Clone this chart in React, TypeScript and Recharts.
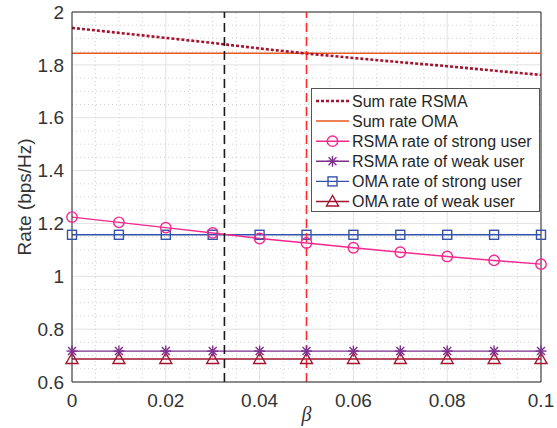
import React from 'react';
import {
  ComposedChart,
  Line,
  XAxis,
  YAxis,
  CartesianGrid,
  ReferenceLine
} from 'recharts';

// beta 取值
const beta = [0, 0.01, 0.02, 0.03, 0.04, 0.05, 0.06, 0.07, 0.08, 0.09, 0.1];
const sumRsma = [1.94, 1.921, 1.902, 1.883, 1.862, 1.843, 1.826, 1.81, 1.795, 1.778, 1.762];
const sumOma = [1.844, 1.844, 1.844, 1.844, 1.844, 1.844, 1.844, 1.844, 1.844, 1.844, 1.844];
const rsmaStrong = [1.224, 1.204, 1.184, 1.164, 1.143, 1.126, 1.108, 1.091, 1.075, 1.06, 1.046];
const rsmaWeak = [0.717, 0.717, 0.717, 0.717, 0.717, 0.717, 0.717, 0.717, 0.717, 0.717, 0.717];
const omaStrong = [1.157, 1.157, 1.157, 1.157, 1.157, 1.157, 1.157, 1.157, 1.157, 1.157, 1.157];
const omaWeak = [0.687, 0.687, 0.687, 0.687, 0.687, 0.687, 0.687, 0.687, 0.687, 0.687, 0.687];

const xTicks = [0, 0.02, 0.04, 0.06, 0.08, 0.1];
const yTicks = [0.6, 0.8, 1, 1.2, 1.4, 1.6, 1.8, 2];
const minorX = [0.005, 0.01, 0.015, 0.025, 0.03, 0.035, 0.045, 0.05, 0.055, 0.065, 0.07, 0.075, 0.085, 0.09, 0.095];
const minorY = [0.65, 0.7, 0.75, 0.85, 0.9, 0.95, 1.05, 1.1, 1.15, 1.25, 1.3, 1.35, 1.45, 1.5, 1.55, 1.65, 1.7, 1.75, 1.85, 1.9, 1.95];

// 两条竖直虚线: 强用户速率交点 / 和速率交点
const crossStrong = 0.0325;
const crossSum = 0.05;

const legendNames = [
  'Sum rate RSMA',
  'Sum rate OMA',
  'RSMA rate of strong user',
  'RSMA rate of weak user',
  'OMA rate of strong user',
  'OMA rate of weak user'
];

const C = {
  rsmaSum: '#a2142f',
  omaSum: '#e8581f',
  strong: '#f5288f',
  weak: '#7e2f8e',
  omaStrong: '#3553a8',
  omaWeak: '#a2142f',
  axis: '#262626'
};

const data = beta.map((b, i) => ({
  beta: b,
  sumRsma: sumRsma[i],
  sumOma: sumOma[i],
  rsmaStrong: rsmaStrong[i],
  rsmaWeak: rsmaWeak[i],
  omaStrong: omaStrong[i],
  omaWeak: omaWeak[i]
}));

function Mark({ kind, cx, cy, color }: { kind: string; cx: number; cy: number; color: string }) {
  if (kind === 'circle') return <circle cx={cx} cy={cy} r={5.2} fill="none" stroke={color} strokeWidth={1.4} />;
  if (kind === 'square')
    return <rect x={cx - 4.5} y={cy - 4.5} width={9} height={9} fill="none" stroke={color} strokeWidth={1.4} />;
  if (kind === 'triangle')
    return (
      <polygon
        points={`${cx},${cy - 6} ${cx - 6},${cy + 4.5} ${cx + 6},${cy + 4.5}`}
        fill="none"
        stroke={color}
        strokeWidth={1.4}
      />
    );
  if (kind === 'star') {
    const r = 5.5;
    const d = r * 0.72;
    return (
      <g stroke={color} strokeWidth={1.4}>
        <line x1={cx - r} y1={cy} x2={cx + r} y2={cy} />
        <line x1={cx} y1={cy - r} x2={cx} y2={cy + r} />
        <line x1={cx - d} y1={cy - d} x2={cx + d} y2={cy + d} />
        <line x1={cx - d} y1={cy + d} x2={cx + d} y2={cy - d} />
      </g>
    );
  }
  return null;
}

const dotOf = (kind: string, color: string) => (p: any) =>
  <Mark key={`${kind}-${p.index}`} kind={kind} cx={p.cx} cy={p.cy} color={color} />;

function LegendBox() {
  const rows = [
    { color: C.rsmaSum, dash: '3 2', w: 2.5, kind: '' },
    { color: C.omaSum, dash: undefined, w: 1.5, kind: '' },
    { color: C.strong, dash: undefined, w: 1.4, kind: 'circle' },
    { color: C.weak, dash: undefined, w: 1.4, kind: 'star' },
    { color: C.omaStrong, dash: undefined, w: 1.4, kind: 'square' },
    { color: C.omaWeak, dash: undefined, w: 1.4, kind: 'triangle' }
  ];
  return (
    <div
      style={{
        position: 'absolute',
        left: 311,
        top: 88,
        width: 229,
        height: 124,
        background: '#fff',
        border: '1px solid #555',
        boxSizing: 'border-box'
      }}
    >
      <svg width={229} height={124}>
        {rows.map((r, i) => {
          const y = 12 + i * 20.1;
          return (
            <g key={i}>
              <line x1={4} y1={y} x2={37} y2={y} stroke={r.color} strokeWidth={r.w} strokeDasharray={r.dash} />
              {r.kind && <Mark kind={r.kind} cx={20.5} cy={y} color={r.color} />}
              <text
                x={40}
                y={y}
                dy="0.36em"
                fontSize={16}
                fontFamily="'Liberation Sans', Arial, sans-serif"
                fill={C.axis}
              >
                {legendNames[i]}
              </text>
            </g>
          );
        })}
      </svg>
    </div>
  );
}

const tickStyle = { fontSize: 19, fill: '#333', fontFamily: "'Liberation Sans', Arial, sans-serif" };

export default function App() {
  return (
    <div style={{ position: 'absolute', left: 0, top: 0, width: 557, height: 428, background: '#fff' }}>
      <ComposedChart width={557} height={428} data={data} margin={{ top: 12, right: 16, bottom: 0, left: 0 }}>
        <CartesianGrid stroke="#e2e2e2" strokeWidth={1} />
        {minorX.map(v => (
          <ReferenceLine key={`mx${v}`} x={v} stroke="#c4c4c4" strokeDasharray="1 3" strokeWidth={0.8} />
        ))}
        {minorY.map(v => (
          <ReferenceLine key={`my${v}`} y={v} stroke="#c4c4c4" strokeDasharray="1 3" strokeWidth={0.8} />
        ))}
        <XAxis
          dataKey="beta"
          type="number"
          domain={[0, 0.1]}
          ticks={xTicks}
          tickLine={false}
          tickMargin={6}
          height={46}
          stroke={C.axis}
          tick={tickStyle}
          label={{
            content: (p: any) => (
              <text
                x={p.viewBox.x + p.viewBox.width / 2}
                y={414}
                dy="0.36em"
                textAnchor="middle"
                fontSize={20}
                fontStyle="italic"
                fontFamily="'Liberation Serif', 'Times New Roman', serif"
                fill="#333"
              >
                β
              </text>
            )
          }}
        />
        <YAxis
          type="number"
          domain={[0.6, 2]}
          ticks={yTicks}
          tickLine={false}
          width={72}
          stroke={C.axis}
          tick={tickStyle}
          label={{
            content: (p: any) => (
              <text
                x={24}
                y={p.viewBox.y + p.viewBox.height / 2}
                transform={`rotate(-90 24 ${p.viewBox.y + p.viewBox.height / 2})`}
                textAnchor="middle"
                dy="0.36em"
                fontSize={19}
                fontFamily="'Liberation Sans', Arial, sans-serif"
                fill="#333"
              >
                Rate (bps/Hz)
              </text>
            )
          }}
        />
        {/* 坐标框的上边和右边 */}
        <ReferenceLine y={2} stroke={C.axis} strokeWidth={1} />
        <ReferenceLine x={0.1} stroke={C.axis} strokeWidth={1} />

        <Line dataKey="omaWeak" stroke={C.omaWeak} strokeWidth={1.4} dot={dotOf('triangle', C.omaWeak)} isAnimationActive={false} />
        <Line dataKey="rsmaWeak" stroke={C.weak} strokeWidth={1.4} dot={dotOf('star', C.weak)} isAnimationActive={false} />
        <Line dataKey="omaStrong" stroke={C.omaStrong} strokeWidth={1.4} dot={dotOf('square', C.omaStrong)} isAnimationActive={false} />
        <Line dataKey="rsmaStrong" stroke={C.strong} strokeWidth={1.4} dot={dotOf('circle', C.strong)} isAnimationActive={false} />
        <Line dataKey="sumOma" stroke={C.omaSum} strokeWidth={1.6} dot={false} isAnimationActive={false} />
        <Line dataKey="sumRsma" stroke={C.rsmaSum} strokeWidth={2.6} strokeDasharray="3 2" dot={false} isAnimationActive={false} />

        <ReferenceLine x={crossStrong} stroke="#1a1a1a" strokeWidth={1.6} strokeDasharray="9 5" />
        <ReferenceLine x={crossSum} stroke="#ff2a2a" strokeWidth={1.6} strokeDasharray="9 5" />
      </ComposedChart>
      <LegendBox />
    </div>
  );
}
